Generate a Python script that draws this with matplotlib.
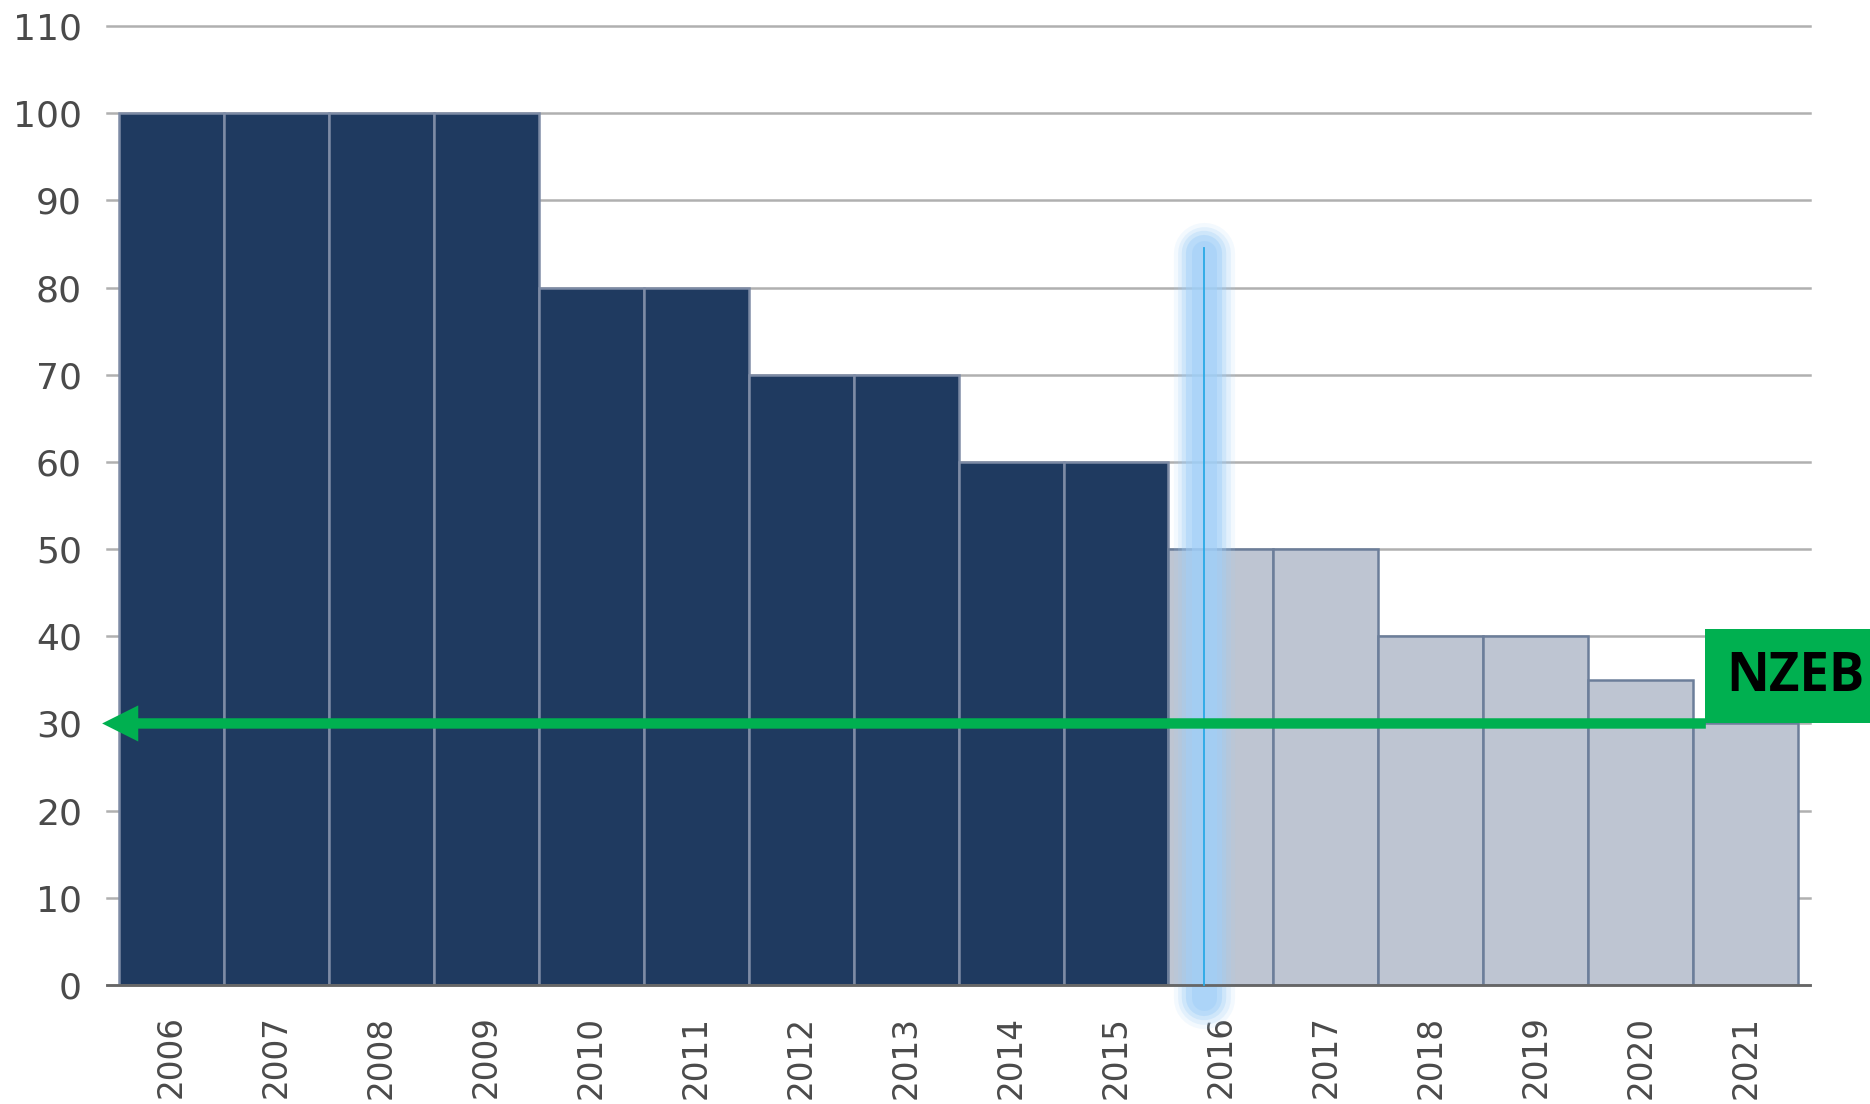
import numpy as np
import matplotlib
matplotlib.use("Agg")
import matplotlib.pyplot as plt
from matplotlib.patches import Rectangle

# data
years = [str(y) for y in range(2006, 2022)]
values = [100, 100, 100, 100, 80, 80, 70, 70, 60, 60, 50, 50, 40, 40, 35, 30]
past_years = 10          # 2006-2015 drawn dark, rest light
yticks = list(range(0, 111, 10))
nzeb_level = 30
nzeb_label = "NZEB"
marker_x = 9.84          # blue marker near 2016

fig = plt.figure(figsize=(18.7, 11.04), dpi=100)
ax = fig.add_axes([0.0572, 0.1078, 0.9108, 0.8686])

x = np.arange(len(years))
dark = x < past_years

# grid
for t in yticks:
    ax.axhline(t, color="#b0b0b0", lw=1.8, zorder=0, clip_on=False)

ax.bar(x[dark], np.array(values)[dark], width=1.0, color="#1f3a60",
       edgecolor="#7d8ba5", linewidth=1.8, zorder=2)
ax.bar(x[~dark], np.array(values)[~dark], width=1.0, color="#bec5d2",
       edgecolor="#6c7e9a", linewidth=1.8, zorder=2)

# glowing marker line
for w, a in [(44, 0.12), (38, 0.2), (32, 0.3), (26, 0.45), (18, 0.5)]:
    ax.plot([marker_x, marker_x], [-1.5, 84.0], color="#a0cff8", lw=w,
            alpha=a, solid_capstyle="round", zorder=3, clip_on=False)
ax.plot([marker_x, marker_x], [0, 84.5], color="#2aa9e6", lw=1.3,
        zorder=4, clip_on=False)

# NZEB arrow
ax.annotate("", xy=(-0.66, nzeb_level), xytext=(14.62, nzeb_level),
            arrowprops=dict(width=7.5, headwidth=26, headlength=26,
                            facecolor="#00b050", edgecolor="none",
                            shrink=0),
            zorder=5, annotation_clip=False)

box = Rectangle((14.61, 30.05), 2.0, 10.8, facecolor="#00b050",
                edgecolor="none", zorder=6, clip_on=False)
ax.add_patch(box)
ax.text(15.47, 35.3, nzeb_label, fontsize=38, fontweight="bold",
        family=["Open Sans", "DejaVu Sans"], color="black",
        ha="center", va="center", zorder=7, clip_on=False)

ax.set_xlim(-0.614, 15.614)
ax.set_ylim(0, 110)
ax.set_yticks(yticks)
ax.set_yticklabels([str(t) for t in yticks], fontsize=26, color="#4a4a4a")
ax.set_xticks(x)
ax.set_xticklabels(years, rotation=90, fontsize=23.5, color="#4a4a4a")
ax.tick_params(axis="y", length=0, pad=18)
ax.tick_params(axis="x", length=0, pad=22)

for s in ["top", "right", "left"]:
    ax.spines[s].set_visible(False)
ax.spines["bottom"].set_color("#666666")
ax.spines["bottom"].set_linewidth(2)
ax.spines["bottom"].set_zorder(3)

fig.savefig("out.png", dpi=100)
